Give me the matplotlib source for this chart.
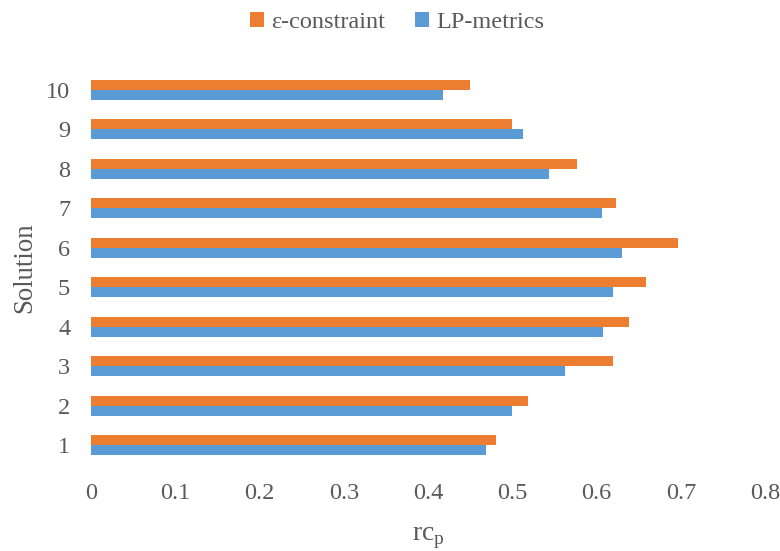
import numpy as np
import matplotlib.pyplot as plt

solutions = ["1", "2", "3", "4", "5", "6", "7", "8", "9", "10"]
eps_constraint = [0.480, 0.518, 0.620, 0.638, 0.658, 0.696, 0.623, 0.577, 0.499, 0.450]
lp_metrics = [0.469, 0.499, 0.563, 0.607, 0.620, 0.630, 0.606, 0.543, 0.513, 0.418]
xticks = [0, 0.1, 0.2, 0.3, 0.4, 0.5, 0.6, 0.7, 0.8]

plt.rcParams["font.family"] = ["Liberation Serif", "DejaVu Serif"]
plt.rcParams["mathtext.fontset"] = "custom"
plt.rcParams["mathtext.rm"] = "Liberation Serif"

grey = "#595959"
orange = "#ED7D31"
blue = "#5B9BD5"

fig = plt.figure(figsize=(7.8, 5.51), dpi=100)
ax = fig.add_axes([0.1167, 0.156, 0.8643, 0.717])

y = np.arange(len(solutions))
h = 0.25
ax.barh(y + h / 2, eps_constraint, height=h, color=orange, label="ε-constraint")
ax.barh(y - h / 2, lp_metrics, height=h, color=blue, label="LP-metrics")

ax.set_xlim(0, 0.8)
ax.set_ylim(-0.5, len(solutions) - 0.5)
ax.set_xticks(xticks)
ax.set_xticklabels(["0" if v == 0 else f"{v:g}" for v in xticks])
ax.set_yticks(y)
ax.set_yticklabels(solutions)
ax.tick_params(axis="both", length=0, labelsize=17.5, colors=grey)
ax.tick_params(axis="x", pad=13)
ax.tick_params(axis="y", pad=15)
for s in ax.spines.values():
    s.set_visible(False)

ax.set_xlabel(r"rc$_\mathrm{p}$", fontsize=20, color=grey, labelpad=15)
ax.set_ylabel("Solution", fontsize=19.3, color=grey, labelpad=6)

ax.legend(loc="center", bbox_to_anchor=(0.454, 1.12), ncol=2, frameon=False,
          fontsize=17.5, handlelength=0.6, handleheight=0.6, handletextpad=0.3,
          columnspacing=1.2, labelcolor=grey)

fig.savefig("out.png", dpi=100)
